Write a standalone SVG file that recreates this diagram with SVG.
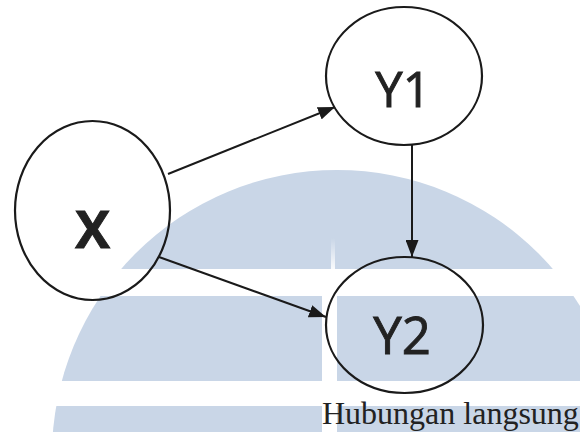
<svg xmlns="http://www.w3.org/2000/svg" width="580" height="432" viewBox="0 0 580 432">
  <style>
    .node { fill: none; stroke: #1a1a1a; stroke-width: 2.2; }
    .label { font-family: "Open Sans", "Liberation Sans", sans-serif; fill: #222222; text-anchor: middle; stroke: #222222; stroke-width: 0.9; }
    .edge { stroke: #1a1a1a; stroke-width: 2; fill: none; marker-end: url(#arrow); }
    .caption { font-family: "Liberation Serif", "Times New Roman", serif; font-size: 32px; fill: #222222; }
    .mark { fill: #c9d6e7; }
  </style>
  <defs>
    <marker id="arrow" markerUnits="userSpaceOnUse" markerWidth="17" markerHeight="13" refX="17" refY="6.5" orient="auto">
      <path d="M0,0 L17,6.5 L0,13 z" fill="#1a1a1a"/>
    </marker>
    <clipPath id="dome">
      <circle cx="337" cy="455" r="285"/>
    </clipPath>
    <linearGradient id="spike" x1="0" y1="0" x2="0" y2="1">
      <stop offset="0" stop-color="#ffffff" stop-opacity="0"/>
      <stop offset="1" stop-color="#ffffff" stop-opacity="0.9"/>
    </linearGradient>
  </defs>

  <rect width="580" height="432" fill="#ffffff"/>

  <!-- background emblem: striped dome -->
  <g id="emblem" clip-path="url(#dome)">
    <rect class="mark" x="0" y="160" width="580" height="109"/>
    <rect class="mark" x="0" y="296" width="322" height="85"/>
    <rect class="mark" x="337" y="296" width="243" height="85"/>
    <rect class="mark" x="0" y="406" width="322" height="26"/>
    <rect class="mark" x="337" y="406" width="243" height="26"/>
    <rect x="331" y="238" width="4" height="31" fill="url(#spike)"/>
  </g>

  <!-- connectors -->
  <g id="edges">
    <line class="edge" x1="168" y1="174" x2="335" y2="107"/>
    <line class="edge" x1="412" y1="145" x2="412" y2="257"/>
    <line class="edge" x1="159" y1="257" x2="326" y2="317"/>
  </g>

  <g id="node-x">
    <ellipse class="node" cx="92.5" cy="210.5" rx="77.5" ry="89.5"/>
    <text class="label" x="92.5" y="248" font-size="52" font-weight="700" fill="#333333" stroke="#333333" stroke-width="0.5">X</text>
  </g>

  <g id="node-y1">
    <ellipse class="node" cx="404" cy="76" rx="78" ry="69"/>
    <text class="label" x="403" y="107" font-size="49">Y1</text>
  </g>

  <g id="node-y2">
    <ellipse class="node" cx="404.5" cy="325" rx="78.5" ry="68"/>
    <text class="label" x="402" y="354" font-size="51">Y2</text>
  </g>

  <text class="caption" x="322" y="424">Hubungan langsung</text>
</svg>
